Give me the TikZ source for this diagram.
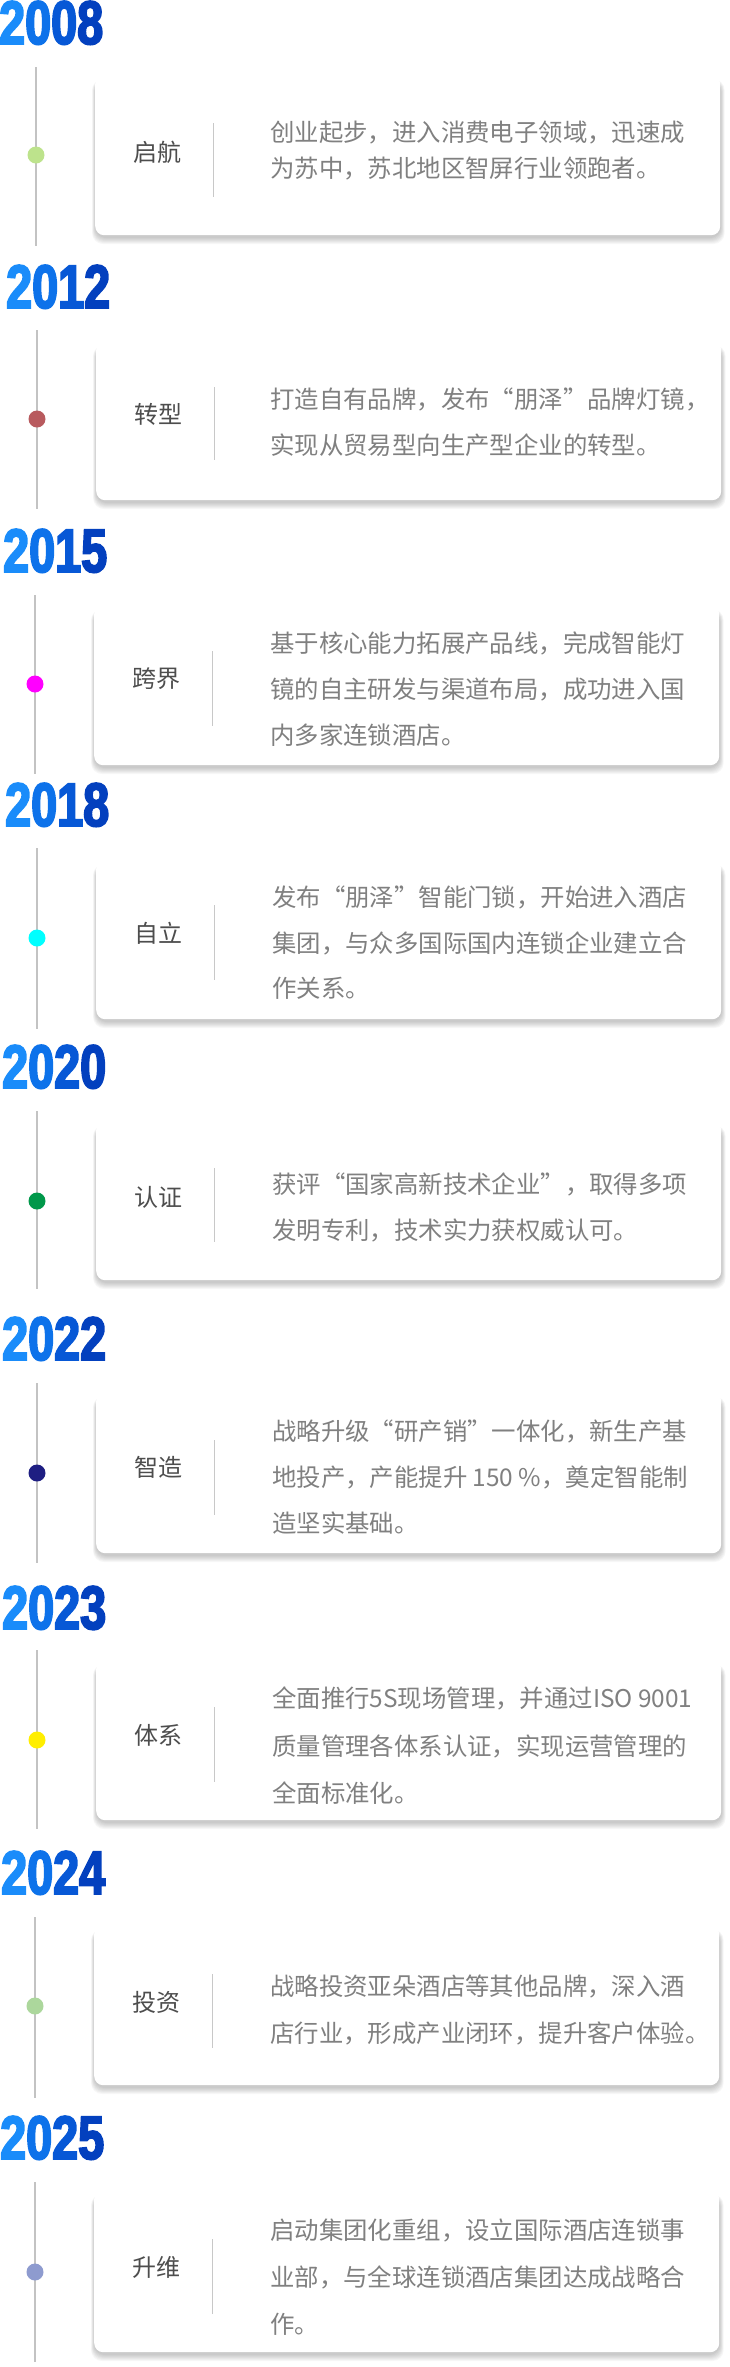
\documentclass[tikz,border=0pt]{standalone}
\usepackage{fontspec}
\setmainfont{Noto Sans CJK SC}
\newfontfamily\yearfont[FakeStretch=0.76,FakeBold=3]{Liberation Sans Bold}
\definecolor{yA}{HTML}{1A8CFA}
\definecolor{yB}{HTML}{0D72EA}
\definecolor{yC}{HTML}{0758D6}
\definecolor{yD}{HTML}{0340BE}
\definecolor{axisgray}{HTML}{C3C3C3}
\definecolor{sepgray}{HTML}{C8C8C8}
\definecolor{labelgray}{HTML}{4D4D4D}
\definecolor{descgray}{HTML}{808080}
\definecolor{dotA}{HTML}{BDE38C}
\definecolor{dotB}{HTML}{B85A5E}
\definecolor{dotC}{HTML}{FF00FF}
\definecolor{dotD}{HTML}{00FFFF}
\definecolor{dotE}{HTML}{00984A}
\definecolor{dotF}{HTML}{1E1E82}
\definecolor{dotG}{HTML}{FFEE00}
\definecolor{dotH}{HTML}{ACD79C}
\definecolor{dotI}{HTML}{8E9BCF}
\tikzset{
  yearnode/.style={inner sep=0pt, font=\yearfont\fontsize{61.5}{62}\selectfont},
  axisline/.style={draw=axisgray, line width=2pt},
  dotnode/.style={circle, inner sep=0pt, minimum size=17pt, draw=none},
  card/.style={fill=white, rounded corners=9pt, inner sep=0pt, minimum width=625pt, anchor=north west},
  labelnode/.style={inner sep=0pt, text=labelgray, font=\fontsize{24}{26}\selectfont},
  descnode/.style={inner sep=0pt, anchor=west, text=descgray, font=\fontsize{24.4}{26}\selectfont},
  sepline/.style={draw=sepgray, line width=1pt},
  shadowlayer/.style={fill=black, opacity=0.032, rounded corners=11pt},
}
% year: id, x, top, four digits
\newcommand\tlyear[7]{\node[yearnode, anchor=base west] (year#1) at (#2,#3+44) {\color{yA}#4\color{yB}#5\color{yC}#6\color{yD}#7};}
% axis: id, x, top, bottom, dot y, colour
\newcommand\tlaxis[6]{%
  \coordinate (axtop#1) at (#2,#3);
  \coordinate (axbot#1) at (#2,#4);
  \draw[axisline] (axtop#1) -- (axbot#1);
  \node[dotnode, fill=#6] (dot#1) at (#2,#5) {};}
% card: id, dx, top, height
\newcommand\tlcard[4]{%
  \foreach \e in {0,...,6}{\fill[shadowlayer] (95+#2-0.5*\e,#3+6-0.3*\e) rectangle (721+#2+0.6*\e,#3+#4+3+\e);}
  \node[card, minimum height=#4pt] (card#1) at (95+#2,#3) {};}
% label: id, dx, y, text, sep top, sep bottom
\newcommand\tllabel[6]{%
  \node[labelnode] (lab#1) at (157+#2,#3) {#4};
  \coordinate (septop#1) at (213+#2,#5);
  \coordinate (sepbot#1) at (213+#2,#6);
  \draw[sepline] (septop#1) -- (sepbot#1);}
\begin{document}
\begin{tikzpicture}[x=1pt,y=-1pt]
\useasboundingbox (0,0) rectangle (729,2367);
\fill[white] (0,0) rectangle (729,2367);

% ---- 2008
\tlyear{1}{-1}{0}{2}{0}{0}{8}
\tlaxis{1}{36}{67}{246}{155}{dotA}
\tlcard{1}{0}{75}{160}
\tllabel{1}{0}{152}{启航}{123}{197}
\node[descnode] (desc1a) at (270,133) {创业起步，进入消费电子领域，迅速成};
\node[descnode] (desc1b) at (270,169) {为苏中，苏北地区智屏行业领跑者。};

% ---- 2012
\tlyear{2}{6}{264}{2}{0}{1}{2}
\tlaxis{2}{37}{330}{509}{419}{dotB}
\tlcard{2}{1}{341}{159}
\tllabel{2}{1}{414}{转型}{387}{460}
\node[descnode] (desc2a) at (270,399) {打造自有品牌，发布“朋泽”品牌灯镜，};
\node[descnode] (desc2b) at (270,445) {实现从贸易型向生产型企业的转型。};

% ---- 2015
\tlyear{3}{3}{528}{2}{0}{1}{5}
\tlaxis{3}{35}{595}{774}{684}{dotC}
\tlcard{3}{-1}{605}{160}
\tllabel{3}{-1}{679}{跨界}{651}{726}
\node[descnode] (desc3a) at (270,643) {基于核心能力拓展产品线，完成智能灯};
\node[descnode] (desc3b) at (270,689) {镜的自主研发与渠道布局，成功进入国};
\node[descnode] (desc3c) at (270,735) {内多家连锁酒店。};

% ---- 2018
\tlyear{4}{5}{782}{2}{0}{1}{8}
\tlaxis{4}{37}{848}{1029}{938}{dotD}
\tlcard{4}{1}{860}{159}
\tllabel{4}{1}{933}{自立}{905}{980}
\node[descnode] (desc4a) at (272,897) {发布“朋泽”智能门锁，开始进入酒店};
\node[descnode] (desc4b) at (272,943) {集团，与众多国际国内连锁企业建立合};
\node[descnode] (desc4c) at (272,988) {作关系。};

% ---- 2020
\tlyear{5}{2}{1044}{2}{0}{2}{0}
\tlaxis{5}{37}{1111}{1289}{1201}{dotE}
\tlcard{5}{1}{1121}{159}
\tllabel{5}{1}{1197}{认证}{1168}{1242}
\node[descnode] (desc5a) at (272,1184) {获评“国家高新技术企业”，取得多项};
\node[descnode] (desc5b) at (272,1230) {发明专利，技术实力获权威认可。};

% ---- 2022
\tlyear{6}{2}{1316}{2}{0}{2}{2}
\tlaxis{6}{37}{1383}{1563}{1473}{dotF}
\tlcard{6}{1}{1392}{161}
\tllabel{6}{1}{1467}{智造}{1440}{1515}
\node[descnode] (desc6a) at (272,1431) {战略升级“研产销”一体化，新生产基};
\node[descnode] (desc6b) at (272,1477) {地投产，产能提升 150 \%，奠定智能制};
\node[descnode] (desc6c) at (272,1523) {造坚实基础。};

% ---- 2023
\tlyear{7}{2}{1585}{2}{0}{2}{3}
\tlaxis{7}{37}{1650}{1829}{1740}{dotG}
\tlcard{7}{1}{1660}{160}
\tllabel{7}{1}{1735}{体系}{1707}{1782}
\node[descnode] (desc7a) at (272,1698) {全面推行5S现场管理，并通过ISO 9001};
\node[descnode] (desc7b) at (272,1746) {质量管理各体系认证，实现运营管理的};
\node[descnode] (desc7c) at (272,1793) {全面标准化。};

% ---- 2024
\tlyear{8}{1}{1850}{2}{0}{2}{4}
\tlaxis{8}{35}{1917}{2098}{2006}{dotH}
\tlcard{8}{-1}{1925}{160}
\tllabel{8}{-1}{2002}{投资}{1974}{2048}
\node[descnode] (desc8a) at (270,1986) {战略投资亚朵酒店等其他品牌，深入酒};
\node[descnode] (desc8b) at (270,2033) {店行业，形成产业闭环，提升客户体验。};

% ---- 2025
\tlyear{9}{0}{2115}{2}{0}{2}{5}
\tlaxis{9}{35}{2182}{2362}{2272}{dotI}
\tlcard{9}{-1}{2190}{162}
\tllabel{9}{-1}{2267}{升维}{2239}{2314}
\node[descnode] (desc9a) at (270,2230) {启动集团化重组，设立国际酒店连锁事};
\node[descnode] (desc9b) at (270,2277) {业部，与全球连锁酒店集团达成战略合};
\node[descnode] (desc9c) at (270,2324) {作。};
\end{tikzpicture}
\end{document}
